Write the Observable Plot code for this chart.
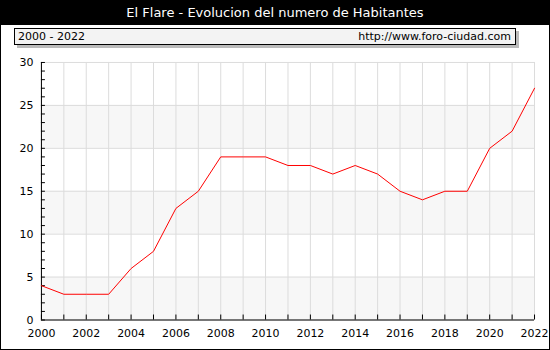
<!DOCTYPE html>
<html><head><meta charset="utf-8">
<script src="https://cdn.jsdelivr.net/npm/d3@7"></script>
<script src="https://cdn.jsdelivr.net/npm/@observablehq/plot@0.6"></script>
<style>
html,body{margin:0;padding:0;background:#fff;}
#wrap{position:relative;width:550px;height:350px;box-sizing:border-box;border:1px solid #000;overflow:hidden;font-family:"DejaVu Sans",sans-serif;}
#title{position:absolute;left:0;top:0;width:548px;height:24px;background:#000;color:#fff;font-size:13px;line-height:24px;text-align:center;}
#box{position:absolute;left:13px;top:27px;width:500px;height:15px;background:#f3f3f3;border:1px solid #000;box-shadow:3px 3px 0 #bbb;font-size:11px;line-height:15px;}
#box .l{position:absolute;left:3px;top:0;}
#box .r{position:absolute;right:4px;top:0;}
#chart{position:absolute;left:-1px;top:49px;}
svg{font-family:"DejaVu Sans",sans-serif;}
</style></head>
<body>
<div id="wrap">
  <div id="title">El Flare - Evolucion del numero de Habitantes</div>
  <div id="box"><span class="l">2000 - 2022</span><span class="r">http://www.foro-ciudad.com</span></div>
  <div id="chart"></div>
</div>
<script>
const years = [2000,2001,2002,2003,2004,2005,2006,2007,2008,2009,2010,2011,2012,2013,2014,2015,2016,2017,2018,2019,2020,2021,2022];
const values = [4,3,3,3,6,8,13,15,19,19,19,18,18,17,18,17,15,14,15,15,20,22,27];
const bandLows = [0,10,20];
const bandHighs = [5,15,25];
const yMajor = [0,5,10,15,20,25,30];
const yMinor = d3.range(0,31);
const xLabels = [2000,2002,2004,2006,2008,2010,2012,2014,2016,2018,2020,2022];

const data = years.map((y,i)=>({year:y, value:values[i]}));
const bands = bandLows.map((lo,i)=>({lo, hi:bandHighs[i]}));

const chart = Plot.plot({
  width: 550,
  height: 300,
  marginLeft: 41,
  marginRight: 15,
  marginTop: 12,
  marginBottom: 30,
  style: {fontFamily: '"DejaVu Sans", sans-serif', fontSize: "11px", color: "#000", background: "transparent"},
  x: {domain: [2000, 2022]},
  y: {domain: [0, 30]},
  marks: [
    Plot.rectY(bands, {x1: 2000, x2: 2022, y1: "lo", y2: "hi", fill: "#f7f7f7"}),
    Plot.ruleX(years, {y1: 0, y2: 30, stroke: "#dcdcdc", strokeWidth: 1}),
    Plot.ruleY(yMajor, {x1: 2000, x2: 2022, stroke: "#dcdcdc", strokeWidth: 1}),
    Plot.axisY({ticks: yMinor, tickSize: -4, tickFormat: () => "", label: null, stroke: "#000", strokeOpacity: 1}),
    Plot.axisY({ticks: yMajor, tickSize: 0, tickPadding: 8, tickFormat: d => String(d), label: null, fill: "#000"}),
    Plot.axisX({ticks: years, tickSize: -5, tickFormat: () => "", label: null, stroke: "#000", strokeOpacity: 1}),
    Plot.axisX({ticks: xLabels, tickSize: 0, tickPadding: 9, tickFormat: d => String(d), label: null, fill: "#000"}),
    Plot.ruleX([2000], {y1: 0, y2: 30, stroke: "#000"}),
    Plot.ruleY([0], {x1: 2000, x2: 2022, stroke: "#000"}),
    Plot.line(data, {x: "year", y: "value", stroke: "#ff0000", strokeWidth: 1})
  ]
});
document.getElementById("chart").appendChild(chart);
</script>
</body></html>
